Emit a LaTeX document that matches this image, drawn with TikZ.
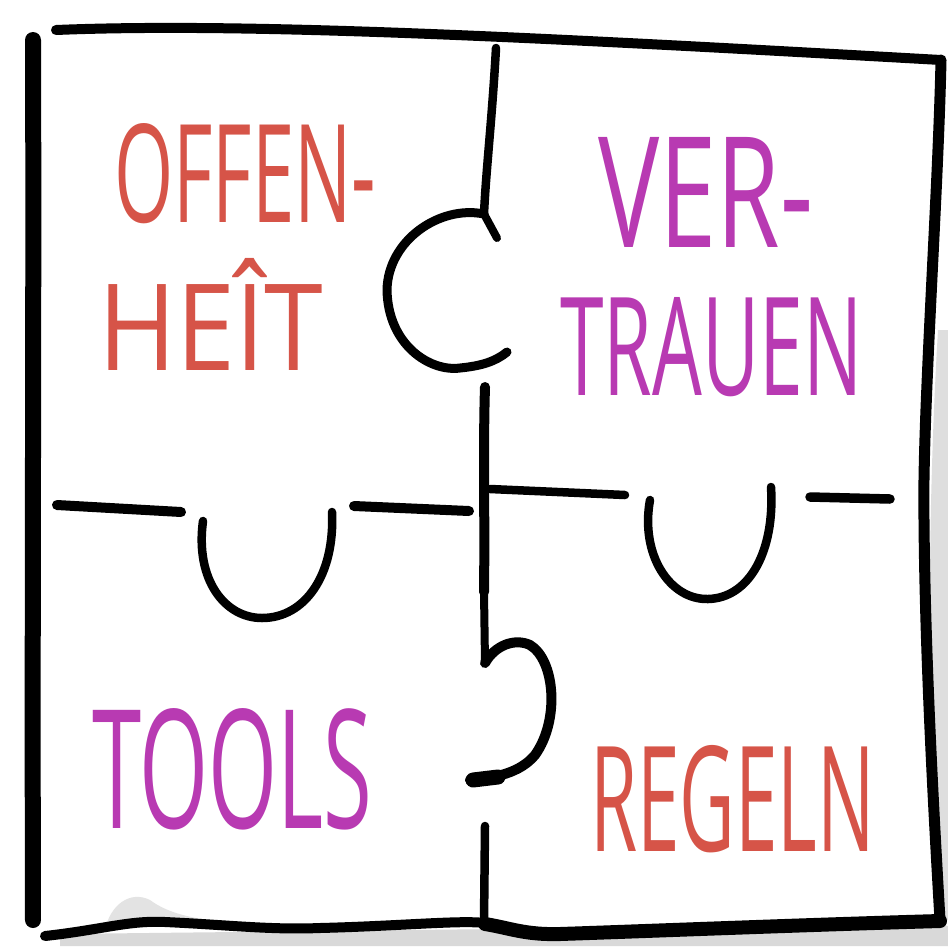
\documentclass[tikz,border=0pt]{standalone}
\usepackage{fontspec}
\setmainfont{Open Sans}
\usepackage{graphicx}
\definecolor{penred}{HTML}{D65448}
\definecolor{penmag}{HTML}{B83AB2}
\begin{document}
\begin{tikzpicture}[x=1pt,y=-1pt,
  ink/.style={draw=black,line cap=round,line join=round},
  word/.style={inner sep=0pt,anchor=north west}]
\useasboundingbox (0,0) rectangle (948,946);
\fill[white] (0,0) rectangle (948,946);
% shadow
\fill[black!15] (60,934) -- (940,924) -- (948,926) -- (948,946) -- (60,946) -- cycle;
\fill[black!13] (938,330) .. controls (928,500) and (926,700) .. (938,920) -- (948,920) -- (948,330) -- cycle;
\fill[black!11] (105,930) .. controls (110,905) and (130,890) .. (150,900) .. controls (170,915) and (200,920) .. (230,922) -- cycle;
% outer border
\draw[ink,line width=16pt] (33,40) .. controls (34,300) and (32,600) .. (33,920);
\draw[ink,line width=10pt] (56,30) .. controls (250,22) and (550,38) .. (941,60);
\draw[ink,line width=11pt] (941,60) .. controls (938,200) and (922,420) .. (924,520)
   .. controls (925,650) and (933,800) .. (940,920);
\draw[ink,line width=10pt] (45,936) .. controls (100,930) and (130,920) .. (165,922)
   .. controls (230,925) and (270,930) .. (320,928) .. controls (400,926) and (460,920) .. (485,923);
\draw[ink,line width=14pt] (485,924) .. controls (510,928) and (525,935) .. (560,934)
   .. controls (650,931) and (800,925) .. (940,921);
% middle vertical, top part with C knob
\draw[ink,line width=8.5pt] (496,48) .. controls (492,120) and (486,170) .. (484,214);
\draw[ink,line width=8pt] (484,214) -- (497,238);
\draw[ink,line width=9pt] (484,214) .. controls (440,205) and (388,240) .. (387,290)
   .. controls (388,345) and (430,372) .. (460,368) .. controls (480,366) and (495,362) .. (507,352);
% middle vertical, lower part with knob
\draw[ink,line width=10pt] (485,387) .. controls (483,450) and (485,520) .. (484,592);
\draw[ink,line width=8pt] (484,592) -- (485,663);
\draw[ink,line width=10pt] (485,663) .. controls (495,645) and (515,638) .. (530,645)
   .. controls (555,660) and (560,720) .. (535,755) .. controls (520,773) and (495,778) .. (470,780);
\draw[ink,line width=15pt] (498,777) -- (473,780);
\draw[ink,line width=8.5pt] (485,826) -- (484,922);
% left horizontal with U knob
\draw[ink,line width=10pt] (57,505) -- (181,512);
\draw[ink,line width=8.5pt] (203,521) .. controls (195,580) and (225,618) .. (262,618)
   .. controls (305,618) and (335,575) .. (332,512);
\draw[ink,line width=10pt] (354,506) -- (469,511);
% right horizontal with U knob
\draw[ink,line width=8.5pt] (490,489) -- (625,495);
\draw[ink,line width=8.5pt] (650,500) .. controls (640,555) and (670,600) .. (708,599)
   .. controls (750,598) and (775,550) .. (771,487);
\draw[ink,line width=9.5pt] (810,497) -- (890,499);
% words
\node[word,text=penred] (offen) at (114,123) {\resizebox{262pt}{99pt}{OFFEN-}};
\node[word,text=penred] (heit) at (98,258) {\resizebox{225pt}{112pt}{HEÎT}};
\node[word,text=penmag] (ver) at (598,137) {\resizebox{215pt}{110pt}{VER-}};
\node[word,text=penmag] (trauen) at (560,297) {\resizebox{302pt}{98pt}{TRAUEN}};
\node[word,text=penmag] (tools) at (92,708) {\resizebox{280pt}{120pt}{TOOLS}};
\node[word,text=penred] (regeln) at (590,745) {\resizebox{285pt}{106pt}{REGELN}};
\end{tikzpicture}
\end{document}
